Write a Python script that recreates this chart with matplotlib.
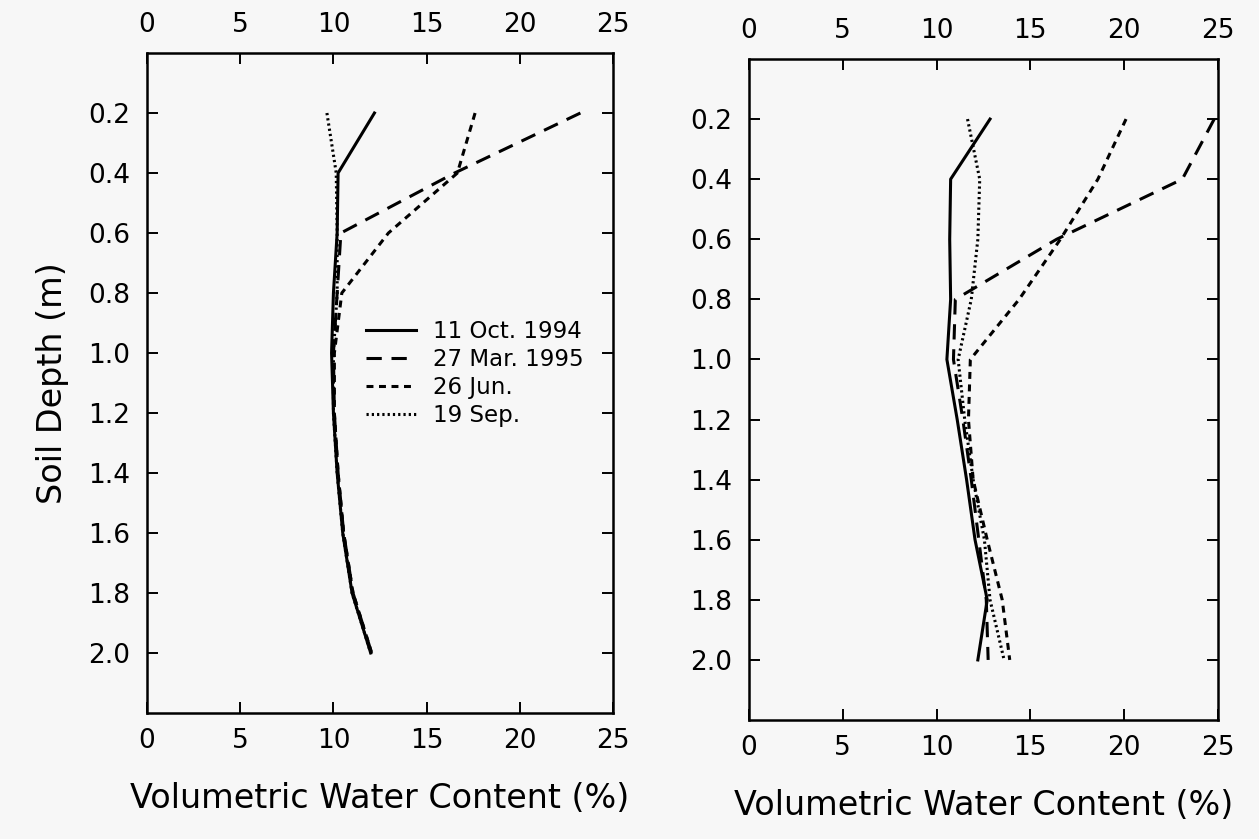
import matplotlib
matplotlib.use("Agg")
import matplotlib.pyplot as plt

plt.rcParams['font.family'] = ['DejaVu Sans']
plt.rcParams['lines.scale_dashes'] = False

# soil depth (m) of the neutron probe readings
depth = [0.2, 0.4, 0.6, 0.8, 1.0, 1.2, 1.4, 1.6, 1.8, 2.0]

# volumetric water content (%), left profile
oct94_L = [12.2, 10.25, 10.2, 10.0, 9.9, 10.0, 10.2, 10.5, 11.0, 12.0]
mar95_L = [23.25, 16.5, 10.4, 10.2, 10.0, 10.05, 10.25, 10.55, 11.05, 12.05]
jun_L = [17.6, 16.65, 12.95, 10.45, 10.05, 10.05, 10.25, 10.55, 11.05, 12.05]
sep_L = [9.65, 10.15, 10.2, 10.2, 10.0, 10.0, 10.2, 10.5, 11.0, 12.0]

# volumetric water content (%), right profile
oct94_R = [12.85, 10.75, 10.7, 10.75, 10.55, 11.1, 11.6, 12.05, 12.7, 12.2]
mar95_R = [24.8, 23.1, 16.4, 11.0, 10.9, 11.4, 11.85, 12.25, 12.65, 12.75]
jun_R = [20.1, 18.6, 16.6, 14.4, 11.8, 11.7, 11.95, 12.7, 13.5, 13.9]
sep_R = [11.65, 12.3, 12.2, 11.85, 11.15, 11.5, 11.95, 12.55, 12.85, 13.6]

labels = ['11 Oct. 1994', '27 Mar. 1995', '26 Jun.', '19 Sep.']
xticks = [0, 5, 10, 15, 20, 25]
yticks = [0.2, 0.4, 0.6, 0.8, 1.0, 1.2, 1.4, 1.6, 1.8, 2.0]

styles = ['-', (0, (11, 7)), (0, (5, 4)), (0, (1.6, 2.2))]

fig = plt.figure(figsize=(12.59, 8.39), dpi=100)
fig.patch.set_facecolor('#f7f7f7')
ax1 = fig.add_axes([0.1168, 0.1502, 0.3701, 0.7866])
ax2 = fig.add_axes([0.5949, 0.1418, 0.3725, 0.7879])


def setup(ax):
    ax.set_facecolor('#f7f7f7')
    ax.set_xlim(0, 25)
    ax.set_ylim(2.2, 0.0)
    ax.set_xticks(xticks)
    ax.set_yticks(yticks)
    ax.set_yticklabels(['%.1f' % v for v in yticks])
    ax.tick_params(axis='both', direction='in', length=8, width=1.4,
                   top=True, right=True, labeltop=True, labelsize=19)
    ax.tick_params(axis='x', pad=11)
    ax.tick_params(axis='y', pad=12)
    for s in ax.spines.values():
        s.set_linewidth(1.8)
    ax.set_xlabel('Volumetric Water Content (%)', fontsize=24, labelpad=20)


def draw(ax, series):
    lines = []
    for vals, ls in zip(series, styles):
        l, = ax.plot(vals, depth, color='black', lw=2.2, ls=ls)
        lines.append(l)
    return lines


setup(ax1)
setup(ax2)
h = draw(ax1, [oct94_L, mar95_L, jun_L, sep_L])
draw(ax2, [oct94_R, mar95_R, jun_R, sep_R])

ax1.set_ylabel('Soil Depth (m)', fontsize=24, labelpad=14)

ax1.legend(h, labels, loc='upper left', bbox_to_anchor=(0.47, 0.595),
           frameon=False, fontsize=16.5, handlelength=2.2, handletextpad=0.7,
           labelspacing=0.22, borderpad=0, borderaxespad=0)

fig.savefig('out.png', dpi=100, facecolor=fig.get_facecolor())
